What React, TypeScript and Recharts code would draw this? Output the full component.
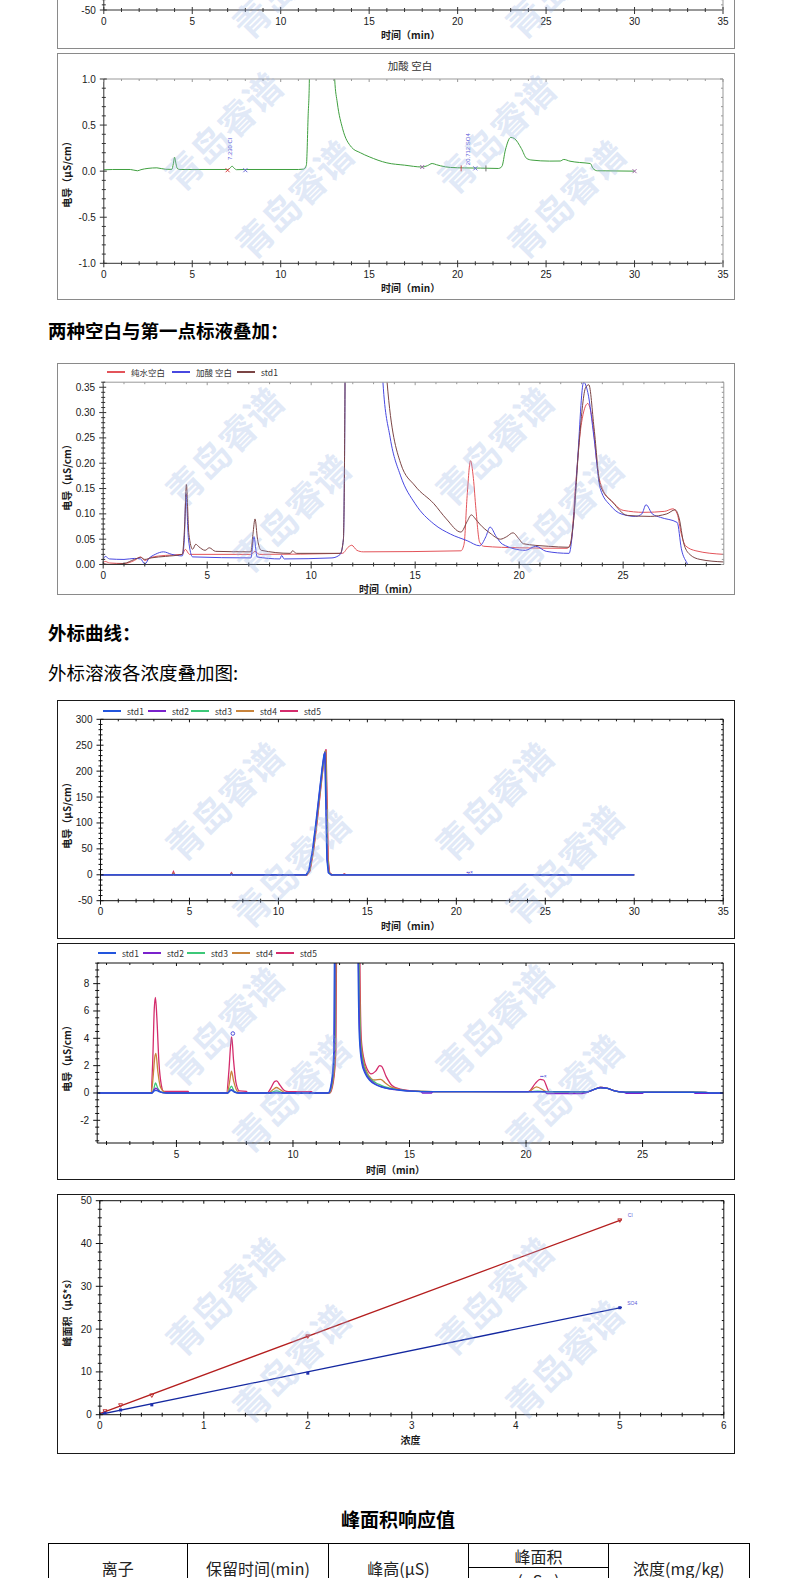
import React from 'react';
import { ComposedChart, Line, Scatter, XAxis, YAxis } from 'recharts';

type Pt = [number, number];

const LATIN = '"Liberation Sans", Arial, sans-serif';
const CJK = '"Noto Sans CJK SC", "Noto Sans", sans-serif';

// ---------------- data ----------------

// cut-off chart at the very top (only its x axis and lowest tick are visible)
const topXTicks = [0, 5, 10, 15, 20, 25, 30, 35];
const topYTicks = [-50];
const topTrace: Pt[] = [[0, 0], [30, 0]];

// 加酸 空白
const acidTitle = '加酸 空白';
const acidXTicks = [0, 5, 10, 15, 20, 25, 30, 35];
const acidYTicks = [-1, -0.5, 0, 0.5, 1];
const acidTrace: Pt[] = [
  [0, 0.015], [0.5, 0.018], [1.5, 0.018], [1.9, 0.004], [2.1, 0.016], [2.5, 0.03], [3.0, 0.036],
  [3.5, 0.02], [3.85, 0.02], [3.93, 0.08], [4.0, 0.15], [4.08, 0.08], [4.15, 0.03], [4.3, 0.018],
  [7.0, 0.018], [7.12, 0.03], [7.25, 0.054], [7.38, 0.03], [7.5, 0.016], [8.0, 0.018], [11.0, 0.018],
  [11.3, 0.022], [11.45, 0.065], [11.55, 0.6], [11.62, 1.0], [11.7, 2.5], [12.95, 2.5], [13.05, 1.0],
  [13.2, 0.74], [13.5, 0.46], [14.0, 0.26], [14.5, 0.2], [15.0, 0.156], [16.0, 0.09], [17.0, 0.065],
  [18.0, 0.045], [18.3, 0.06], [18.56, 0.083], [18.8, 0.07], [19.03, 0.058], [19.6, 0.04], [20.4, 0.035],
  [21.3, 0.033], [22.3, 0.029], [22.5, 0.05], [22.7, 0.23], [23.0, 0.366], [23.2, 0.355], [23.6, 0.246],
  [23.9, 0.138], [24.2, 0.12], [25.2, 0.109], [25.8, 0.11], [26.0, 0.127], [26.35, 0.108], [26.9, 0.094],
  [27.5, 0.083], [27.65, 0.03], [27.9, 0.004], [30.0, 0.0],
];
const acidMarks = [
  { t: 7.0, v: 0.01, kind: 'x', color: '#d84040' },
  { t: 8.0, v: 0.01, kind: 'x', color: '#6a6ad8' },
  { t: 18.0, v: 0.045, kind: 'x', color: '#9a6aa8' },
  { t: 20.2, v: 0.03, kind: '|', color: '#d84040' },
  { t: 21.0, v: 0.03, kind: 'x', color: '#6a6ad8' },
  { t: 21.6, v: 0.03, kind: '|', color: '#707070' },
  { t: 30.0, v: 0.0, kind: 'x', color: '#a06aa8' },
  { t: 7.23, v: 0.12, kind: 'text', color: '#5a5ad8', label: '7.230 Cl' },
  { t: 20.712, v: 0.065, kind: 'text', color: '#5a5ad8', label: '20.712 SO4' },
];

// 两种空白与第一点标液叠加
const overlayNames = ['纯水空白', '加酸 空白', 'std1'];
const overlayColors = ['#e3545a', '#4848e0', '#7b4545'];
const overlayXTicks = [0, 5, 10, 15, 20, 25];
const overlayYTicks = [0, 0.05, 0.1, 0.15, 0.2, 0.25, 0.3, 0.35];
const pureWaterTrace: Pt[] = [
  [0, 0.004], [0.1, 0.006], [0.3, 0.003], [1.0, 0.002], [1.5, 0.008], [1.8, 0.015], [2.0, 0.008],
  [2.3, 0.014], [3.0, 0.018], [3.8, 0.02], [3.95, 0.03], [4.15, 0.02], [7.1, 0.02], [7.3, 0.026],
  [7.5, 0.02], [11.5, 0.022], [11.8, 0.035], [11.95, 0.038], [12.2, 0.028], [12.5, 0.025], [17.2, 0.027],
  [17.35, 0.04], [17.5, 0.136], [17.66, 0.205], [17.8, 0.17], [17.92, 0.11], [18.1, 0.044], [18.3, 0.036],
  [20.0, 0.033], [22.3, 0.032], [22.5, 0.045], [22.7, 0.15], [23.0, 0.28], [23.3, 0.318], [23.5, 0.29],
  [23.8, 0.18], [24.0, 0.15], [24.5, 0.123], [25.0, 0.107], [26.0, 0.103], [27.0, 0.105], [27.4, 0.11],
  [27.6, 0.1], [27.8, 0.06], [28.0, 0.037], [28.5, 0.027], [29.84, 0.02],
];
const acidOverlayTrace: Pt[] = [
  [0, 0.01], [0.1, 0.016], [0.3, 0.011], [1.0, 0.01], [1.5, 0.012], [1.8, 0.011], [2.0, 0.001],
  [2.2, 0.012], [2.5, 0.02], [2.9, 0.025], [3.3, 0.02], [3.8, 0.017], [3.9, 0.05], [3.98, 0.14],
  [4.1, 0.05], [4.3, 0.015], [7.1, 0.013], [7.25, 0.055], [7.4, 0.015], [8.5, 0.011], [8.58, 0.018],
  [8.7, 0.011], [11.0, 0.013], [11.4, 0.02], [11.55, 0.05], [11.62, 0.3], [11.68, 0.8], [13.2, 0.8],
  [13.45, 0.36], [13.8, 0.25], [14.3, 0.175], [15.0, 0.12], [15.9, 0.08], [16.7, 0.06], [17.5, 0.047],
  [18.1, 0.037], [18.4, 0.055], [18.6, 0.074], [18.9, 0.055], [19.2, 0.04], [20.3, 0.028], [20.8, 0.036],
  [21.3, 0.026], [22.4, 0.022], [22.6, 0.08], [22.8, 0.2], [23.1, 0.36], [23.3, 0.34], [23.6, 0.25],
  [23.9, 0.15], [24.4, 0.116], [24.9, 0.1], [25.6, 0.095], [25.9, 0.1], [26.1, 0.118], [26.4, 0.1],
  [26.8, 0.093], [27.6, 0.083], [27.8, 0.031], [28.1, 0.0], [28.3, -0.02],
];
const std1BlankTrace: Pt[] = [
  [0, 0.002], [0.3, 0.0], [1.0, 0.002], [1.5, 0.01], [1.8, 0.014], [2.0, 0.01], [2.3, 0.013],
  [3.0, 0.016], [3.8, 0.02], [3.92, 0.08], [4.0, 0.158], [4.12, 0.06], [4.3, 0.03], [4.45, 0.04],
  [4.6, 0.035], [4.9, 0.028], [5.1, 0.033], [5.4, 0.026], [7.1, 0.025], [7.2, 0.06], [7.3, 0.09],
  [7.42, 0.05], [7.6, 0.028], [9.0, 0.022], [9.1, 0.027], [9.3, 0.022], [11.4, 0.022], [11.55, 0.05],
  [11.62, 0.3], [11.68, 0.8], [13.5, 0.8], [13.65, 0.36], [14.3, 0.2], [15.0, 0.155], [15.9, 0.12],
  [16.5, 0.09], [17.2, 0.064], [17.5, 0.085], [17.7, 0.098], [17.9, 0.09], [18.1, 0.08], [18.6, 0.062],
  [19.1, 0.05], [19.4, 0.055], [19.7, 0.0625], [20.0, 0.05], [20.2, 0.041], [21.4, 0.036], [22.4, 0.034],
  [22.6, 0.08], [22.9, 0.25], [23.2, 0.35], [23.35, 0.355], [23.6, 0.27], [23.9, 0.156], [24.5, 0.123],
  [25.2, 0.097], [26.3, 0.095], [27.1, 0.1], [27.5, 0.108], [27.7, 0.09], [27.9, 0.044], [28.2, 0.02],
  [28.7, 0.01], [29.84, 0.005],
];

// 外标溶液各浓度叠加图
const stdNames = ['std1', 'std2', 'std3', 'std4', 'std5'];
const stdColors = ['#2255dd', '#7a22cc', '#3cc878', '#c8843c', '#d42c6c'];
const fullXTicks = [0, 5, 10, 15, 20, 25, 30, 35];
const fullYTicks = [-50, 0, 50, 100, 150, 200, 250, 300];
const fullStd1: Pt[] = [
  [0, 0], [11.55, 0], [11.7, 8], [11.9, 45], [12.1, 100], [12.3, 160], [12.45, 205], [12.55, 230],
  [12.6, 235], [12.66, 140], [12.72, 30], [12.8, 4], [12.95, 0], [30, 0],
];
const fullStd2: Pt[] = [
  [0, 0], [7.3, 0], [7.36, 1], [7.42, 0], [11.57, 0], [11.72, 8], [11.92, 45], [12.12, 100], [12.32, 162],
  [12.47, 207], [12.57, 232], [12.62, 237], [12.68, 140], [12.74, 30], [12.82, 4], [12.97, 0], [30, 0],
];
const fullStd3: Pt[] = [
  [0, 0], [4.05, 0], [4.1, 1], [4.16, 0], [7.3, 0], [7.36, 1.5], [7.42, 0], [11.58, 0], [11.74, 8],
  [11.94, 46], [12.14, 102], [12.34, 164], [12.49, 208], [12.59, 234], [12.64, 238], [12.7, 140],
  [12.76, 30], [12.84, 4], [12.99, 0], [30, 0],
];
const fullStd4: Pt[] = [
  [0, 0], [4.05, 0], [4.1, 3], [4.16, 0], [7.3, 0], [7.36, 2.5], [7.42, 0], [11.6, 0], [11.76, 8],
  [11.96, 46], [12.16, 102], [12.36, 165], [12.51, 210], [12.61, 236], [12.66, 240], [12.72, 140],
  [12.78, 30], [12.86, 4], [13.0, 0], [13.65, 0], [13.72, 1], [13.8, 0], [30, 0],
];
const fullStd5: Pt[] = [
  [0, 0], [4.02, 0], [4.1, 6], [4.18, 0], [7.28, 0], [7.36, 4], [7.44, 0], [11.62, 0], [11.78, 8],
  [11.98, 47], [12.18, 103], [12.38, 166], [12.53, 212], [12.63, 238], [12.68, 242], [12.74, 140],
  [12.8, 30], [12.88, 4], [13.02, 0], [13.62, 0], [13.7, 2], [13.8, 0], [20.6, 0], [20.7, 1], [20.8, 0], [30, 0],
];
const fullMarks = [
  { t: 20.75, v: 0, kind: 'text2', color: '#4a4ad8', label: '▪▪×' },
];

// zoomed overlay
const zoomXTicks = [5, 10, 15, 20, 25];
const zoomYTicks = [-2, 0, 2, 4, 6, 8];
const zoomStd1: Pt[] = [
  [1.6, 0], [3.95, 0], [4.05, 0.15], [4.12, 0.2], [4.25, 0.1], [4.4, 0.03], [4.6, 0], [7.2, 0], [7.3, 0.15],
  [7.36, 0.2], [7.5, 0.05], [7.7, 0], [11.5, 0], [11.65, 0.8], [11.75, 3], [11.9, 45], [12.6, 235],
  [12.78, 12], [12.85, 4], [12.95, 2.2], [13.1, 1.4], [13.3, 0.9], [13.55, 0.6], [13.8, 0.42], [14.2, 0.3],
  [14.6, 0.2], [15.0, 0.14], [16.0, 0.1], [22.6, 0.08], [22.9, 0.25], [23.2, 0.38], [23.5, 0.33],
  [23.8, 0.15], [24.2, 0.06], [27.7, 0.05], [27.9, 0], [28.46, 0],
];
const zoomStd2: Pt[] = [
  [1.6, 0], [3.95, 0], [4.05, 0.25], [4.12, 0.35], [4.25, 0.15], [4.4, 0.03], [4.6, 0], [7.2, 0], [7.3, 0.2],
  [7.36, 0.25], [7.5, 0.06], [7.7, 0], [9.1, 0], [9.29, 0.05], [9.5, 0], [11.52, 0], [11.67, 0.8], [11.78, 3],
  [11.93, 45], [12.62, 237], [12.8, 12], [12.87, 4], [12.97, 2.3], [13.12, 1.45], [13.32, 0.95], [13.57, 0.62],
  [13.76, 0.48], [14.0, 0.36], [14.5, 0.22], [15.0, 0.15], [15.5, 0.1], [15.55, 0], [15.95, 0], [16.0, 0.1],
  [20.8, 0.1], [20.9, -0.05], [22.4, -0.05], [22.9, 0.25], [23.2, 0.4], [23.5, 0.33], [23.8, 0.15],
  [24.2, 0.06], [24.3, -0.02], [25.0, -0.02], [25.05, 0.05], [27.2, 0.05], [27.25, -0.02], [28.46, -0.02],
];
const zoomStd3: Pt[] = [
  [1.6, 0], [3.95, 0], [4.03, 0.3], [4.1, 0.73], [4.2, 0.35], [4.35, 0.06], [4.6, 0], [7.2, 0], [7.3, 0.35],
  [7.36, 0.5], [7.48, 0.12], [7.7, 0], [9.0, 0], [9.29, 0.15], [9.6, 0], [11.54, 0], [11.69, 0.8], [11.8, 3],
  [11.95, 45], [12.64, 238], [12.82, 12], [12.89, 4], [12.99, 2.4], [13.14, 1.5], [13.34, 1.0], [13.55, 0.75],
  [13.76, 0.58], [14.0, 0.42], [14.5, 0.24], [15.0, 0.15], [16.0, 0.1], [20.2, 0.1], [20.5, 0.14],
  [20.8, 0.1], [22.6, 0.08], [22.9, 0.25], [23.2, 0.4], [23.5, 0.33], [23.8, 0.15], [24.2, 0.06],
  [27.7, 0.05], [27.9, 0], [28.46, 0],
];
const zoomStd4: Pt[] = [
  [1.6, 0], [3.92, 0], [4.0, 1.2], [4.07, 2.6], [4.12, 2.9], [4.2, 1.6], [4.32, 0.4], [4.5, 0.05], [4.6, 0],
  [7.18, 0], [7.28, 0.8], [7.36, 1.6], [7.45, 0.9], [7.6, 0.15], [7.75, 0], [8.95, 0], [9.15, 0.25],
  [9.29, 0.4], [9.45, 0.25], [9.7, 0], [11.56, 0], [11.71, 0.8], [11.82, 3], [11.97, 45], [12.66, 240],
  [12.84, 12], [12.91, 4], [13.01, 2.5], [13.16, 1.6], [13.36, 1.05], [13.5, 0.95], [13.76, 1.0],
  [13.95, 0.75], [14.2, 0.45], [14.6, 0.25], [15.0, 0.16], [16.0, 0.1], [20.1, 0.1], [20.45, 0.45],
  [20.9, 0.1], [22.6, 0.08], [22.9, 0.25], [23.2, 0.4], [23.5, 0.33], [23.8, 0.15], [24.2, 0.06],
  [27.7, 0.05], [27.9, 0], [28.46, 0],
];
const zoomStd5: Pt[] = [
  [1.6, 0], [3.9, 0], [3.98, 2.2], [4.05, 6.2], [4.1, 7.0], [4.16, 5.5], [4.25, 2.2], [4.35, 0.6],
  [4.45, 0.12], [5.5, 0.12], [5.55, 0], [7.15, 0], [7.25, 1.6], [7.33, 3.6], [7.37, 4.1], [7.45, 2.4],
  [7.55, 0.8], [7.7, 0.15], [8.0, 0.12], [8.05, 0], [8.9, 0], [9.05, 0.35], [9.22, 0.85], [9.3, 0.88],
  [9.45, 0.55], [9.65, 0.15], [9.8, 0.1], [10.8, 0.1], [10.85, 0], [11.58, 0], [11.73, 0.8], [11.84, 3],
  [11.99, 45], [12.68, 242], [12.86, 12], [12.93, 4], [13.03, 2.6], [13.2, 1.7], [13.35, 1.4],
  [13.55, 1.6], [13.72, 2.0], [13.8, 1.95], [14.0, 1.2], [14.25, 0.55], [14.6, 0.28], [15.0, 0.17],
  [16.0, 0.1], [20.1, 0.1], [20.4, 0.7], [20.6, 1.0], [20.75, 0.95], [21.0, 0.1], [22.6, 0.08],
  [22.9, 0.25], [23.2, 0.4], [23.5, 0.33], [23.8, 0.15], [24.2, 0.06], [27.7, 0.05], [27.9, 0], [28.46, 0],
];
const zoomMarks = [
  { t: 7.42, v: 4.35, kind: 'o', color: '#4a4ad8' },
  { t: 20.75, v: 1.05, kind: 'text2', color: '#4a4ad8', label: '▪▪×' },
];

// 标准曲线
const calXTicks = [0, 1, 2, 3, 4, 5, 6];
const calYTicks = [0, 10, 20, 30, 40, 50];
const calConc = [0.05, 0.2, 0.5, 2, 5];
const clArea = [0.8, 2.2, 4.5, 18.3, 45.4];
const so4Area = [0.35, 1.1, 2.3, 9.7, 25.0];
const clFit: Pt[] = [[0, 0.25], [5.02, 45.6]];
const so4Fit: Pt[] = [[0, 0.05], [5.02, 25.1]];
const calLabels = ['Cl', 'SO4'];

// 峰面积响应值 table
const tableTitle = '峰面积响应值';
const tableHeads = ['离子', '保留时间(min)', '峰高(μS)', '峰面积', '浓度(mg/kg)'];
const tableAreaUnit = '(μS.s)';

// ---------------- helpers ----------------

interface AxisSpec { domain: [number, number]; major: number[]; minor: number; fmt: (v: number) => string }
interface LineSpec { data: Pt[]; color: string; width?: number; smooth?: boolean }
interface Mark { t: number; v: number; kind: string; color: string; label?: string }
interface ChartSpec {
  left: number; top: number; width: number; height: number;
  plot: { l: number; t: number; r: number; b: number };
  x: AxisSpec; y: AxisSpec;
  lines: LineSpec[];
  marks?: Mark[];
  border: string; borderW: number; axis: string; frame: string;
}

const AXB = 20, AXT = 4, AXW = 30, AXR = 4;
const toRows = (d: Pt[]) => d.map(([t, v]) => ({ t, v }));
const near = (a: number, b: number) => Math.abs(a - b) < 1e-6;

function tickValues(ax: AxisSpec) {
  const out: number[] = [];
  const [lo, hi] = ax.domain;
  const i0 = Math.ceil(lo / ax.minor - 1e-6);
  const i1 = Math.floor(hi / ax.minor + 1e-6);
  for (let i = i0; i <= i1; i++) out.push(Math.round(i * ax.minor * 1e6) / 1e6);
  return out;
}

function makeTick(side: 'bottom' | 'top' | 'left' | 'right', ax: AxisSpec, color: string) {
  return (p: any) => {
    const v: number = p.payload.value;
    const major = ax.major.some((m) => near(m, v));
    const x: number = p.x;
    const y: number = p.y;
    const out = major ? 4 : 2;
    const inn = major ? 3 : 2;
    const txt = { fontFamily: LATIN, fontSize: 10, fill: '#1a1a1a' };
    if (side === 'bottom') {
      return (
        <g>
          <line x1={x} x2={x} y1={y - inn} y2={y + out} stroke={color} />
          {major && <text x={x} y={y + 11} dy="0.35em" textAnchor="middle" style={txt}>{ax.fmt(v)}</text>}
        </g>
      );
    }
    if (side === 'left') {
      return (
        <g>
          <line x1={x - out} x2={x + inn} y1={y} y2={y} stroke={color} />
          {major && <text x={x - 8} y={y} dy="0.35em" textAnchor="end" style={txt}>{ax.fmt(v)}</text>}
        </g>
      );
    }
    if (side === 'top') return <line x1={x} x2={x} y1={y} y2={y + inn} stroke={color} />;
    return <line x1={x - inn} x2={x} y1={y} y2={y} stroke={color} />;
  };
}

function markShape(p: any) {
  const { cx, cy, payload } = p;
  const m = payload as Mark;
  if (m.kind === 'x') {
    return (
      <g stroke={m.color} strokeWidth={1}>
        <line x1={cx - 2} y1={cy - 2} x2={cx + 2} y2={cy + 2} />
        <line x1={cx - 2} y1={cy + 2} x2={cx + 2} y2={cy - 2} />
      </g>
    );
  }
  if (m.kind === '|') return <line x1={cx} y1={cy - 3} x2={cx} y2={cy + 3} stroke={m.color} />;
  if (m.kind === 'o') return <circle cx={cx} cy={cy} r={1.8} fill="none" stroke={m.color} />;
  if (m.kind === 'tri') {
    return <path d={`M${cx - 2},${cy - 1.5} L${cx + 2},${cy - 1.5} L${cx},${cy + 2} Z`} fill="none" stroke={m.color} />;
  }
  if (m.kind === 'sq') return <rect x={cx - 1.5} y={cy - 1.5} width={3} height={3} fill={m.color} />;
  if (m.kind === 'text') {
    return (
      <text x={cx} y={cy} transform={`rotate(-90 ${cx} ${cy})`} style={{ fontFamily: LATIN, fontSize: 6, fill: m.color }}>
        {m.label}
      </text>
    );
  }
  return (
    <text x={cx} y={cy - 1} textAnchor="middle" style={{ fontFamily: LATIN, fontSize: 5, fill: m.color }}>
      {m.label}
    </text>
  );
}

function Chrom({ spec }: { spec: ChartSpec }) {
  const { left, top, width, height, plot, x, y } = spec;
  const margin = {
    left: plot.l - left - AXW,
    top: plot.t - top - AXT,
    right: left + width - plot.r - AXR,
    bottom: top + height - plot.b - AXB,
  };
  const xt = tickValues(x);
  const yt = tickValues(y);
  return (
    <div style={{ position: 'absolute', left, top, width, height }}>
      <ComposedChart width={width} height={height} margin={margin}>
        <XAxis dataKey="t" type="number" domain={x.domain} allowDataOverflow ticks={xt} interval={0}
          tickSize={0} tickMargin={0} tickLine={false} axisLine={{ stroke: spec.axis }}
          tick={makeTick('bottom', x, spec.axis)} height={AXB} />
        <XAxis xAxisId="top" orientation="top" dataKey="t" type="number" domain={x.domain} allowDataOverflow
          ticks={xt} interval={0} tickSize={0} tickMargin={0} tickLine={false} axisLine={{ stroke: spec.frame }}
          tick={makeTick('top', x, spec.frame)} height={AXT} />
        <YAxis type="number" domain={y.domain} allowDataOverflow ticks={yt} interval={0}
          tickSize={0} tickMargin={0} tickLine={false} axisLine={{ stroke: spec.axis }}
          tick={makeTick('left', y, spec.axis)} width={AXW} />
        <YAxis yAxisId="right" orientation="right" type="number" domain={y.domain} allowDataOverflow ticks={yt}
          interval={0} tickSize={0} tickMargin={0} tickLine={false} axisLine={{ stroke: spec.frame }}
          tick={makeTick('right', y, spec.frame)} width={AXR} />
        {spec.lines.map((s, i) => (
          <Line key={i} data={toRows(s.data)} dataKey="v" type={s.smooth === false ? 'linear' : 'monotone'}
            stroke={s.color} strokeWidth={s.width ?? 1} dot={false} activeDot={false} isAnimationActive={false} />
        ))}
        {spec.marks && (
          <Scatter data={spec.marks} dataKey="v" shape={markShape} isAnimationActive={false} />
        )}
      </ComposedChart>
      <div style={{
        position: 'absolute', left: 0, top: 0, width, height, boxSizing: 'border-box',
        border: `${spec.borderW}px solid ${spec.border}`, pointerEvents: 'none',
      }} />
    </div>
  );
}

const AxisTitle = ({ text, cx, cy, rotate }: { text: string; cx: number; cy: number; rotate?: boolean }) => (
  <div style={{
    position: 'absolute', left: cx, top: cy, whiteSpace: 'nowrap', fontFamily: CJK, fontSize: 10,
    fontWeight: 700, color: '#1a1a1a', lineHeight: '12px',
    transform: `translate(-50%, -50%)${rotate ? ' rotate(-90deg)' : ''}`,
  }}>{text}</div>
);

const Legend = ({ names, colors, lineX, y }: { names: string[]; colors: string[]; lineX: number[]; y: number }) => (
  <>
    {names.map((n, i) => (
      <div key={n} style={{ position: 'absolute', left: Math.round(lineX[i]), top: Math.round(y) - 6, height: 12, display: 'flex', alignItems: 'center', zIndex: 5 }}>
        <div style={{ width: 18, height: 1.5, background: colors[i] }} />
        <span style={{ marginLeft: 6, fontFamily: CJK, fontSize: 8.5, color: '#333', whiteSpace: 'nowrap' }}>{n}</span>
      </div>
    ))}
  </>
);

const Heading = ({ text, cy, bold }: { text: string; cy: number; bold?: boolean }) => (
  <div style={{
    position: 'absolute', left: 48, top: cy - 13, height: 26, lineHeight: '26px', fontFamily: CJK,
    fontSize: 18.5, fontWeight: bold ? 700 : 400, color: '#000', whiteSpace: 'nowrap',
  }}>{text}</div>
);

const watermarkSpots: Pt[] = [
  [290, -22], [563, -22],
  [222, 130], [293, 198], [495, 133], [565, 198],
  [223, 445], [290, 512], [493, 445], [563, 512],
  [223, 800], [290, 867], [493, 800], [563, 863],
  [223, 1025], [290, 1092], [493, 1022], [563, 1092],
  [223, 1295], [290, 1362], [493, 1295], [563, 1358],
];

// ---------------- chart specs ----------------

const fmtInt = (v: number) => String(v);
const gray = '#8a8a8a';

const topSpec: ChartSpec = {
  left: 56.5, top: -190, width: 678, height: 238.5,
  plot: { l: 103.3, t: -171, r: 722.5, b: 10 },
  x: { domain: [0, 35], major: topXTicks, minor: 1, fmt: fmtInt },
  y: { domain: [-50, 300], major: topYTicks, minor: 10, fmt: fmtInt },
  lines: [{ data: topTrace, color: '#3f9f3f', smooth: false }],
  border: gray, borderW: 1, axis: '#333', frame: '#999',
};

const acidSpec: ChartSpec = {
  left: 56.5, top: 53, width: 678, height: 247,
  plot: { l: 103.3, t: 79, r: 722.5, b: 263.3 },
  x: { domain: [0, 35], major: acidXTicks, minor: 1, fmt: fmtInt },
  y: { domain: [-1, 1], major: acidYTicks, minor: 0.1, fmt: (v) => v.toFixed(1) },
  lines: [{ data: acidTrace, color: '#3f9f3f' }],
  marks: acidMarks,
  border: gray, borderW: 1, axis: '#333', frame: '#999',
};

const overlaySpec: ChartSpec = {
  left: 56.5, top: 362.5, width: 678, height: 232.5,
  plot: { l: 102.7, t: 381.7, r: 723.3, b: 564 },
  x: { domain: [0, 29.84], major: overlayXTicks, minor: 1, fmt: fmtInt },
  y: { domain: [0, 0.36], major: overlayYTicks, minor: 0.01, fmt: (v) => v.toFixed(2) },
  lines: [
    { data: pureWaterTrace, color: overlayColors[0] },
    { data: acidOverlayTrace, color: overlayColors[1] },
    { data: std1BlankTrace, color: overlayColors[2] },
  ],
  border: gray, borderW: 1, axis: '#333', frame: '#999',
};

const fullSpec: ChartSpec = {
  left: 56.5, top: 700, width: 678, height: 238.5,
  plot: { l: 100, t: 719.3, r: 722.7, b: 900.7 },
  x: { domain: [0, 35], major: fullXTicks, minor: 1, fmt: fmtInt },
  y: { domain: [-50, 300], major: fullYTicks, minor: 10, fmt: fmtInt },
  lines: [
    { data: fullStd5, color: stdColors[4], width: 1.3, smooth: false },
    { data: fullStd4, color: stdColors[3], width: 1.3, smooth: false },
    { data: fullStd3, color: stdColors[2], width: 1.3, smooth: false },
    { data: fullStd2, color: stdColors[1], width: 1.3, smooth: false },
    { data: fullStd1, color: stdColors[0], width: 1.3, smooth: false },
  ],
  marks: fullMarks,
  border: '#1a1a1a', borderW: 1.5, axis: '#111', frame: '#111',
};

const zoomSpec: ChartSpec = {
  left: 56.5, top: 943.3, width: 678, height: 237,
  plot: { l: 96.7, t: 963.3, r: 722.7, b: 1143.3 },
  x: { domain: [1.6, 28.46], major: zoomXTicks, minor: 1, fmt: fmtInt },
  y: { domain: [-3.66, 9.51], major: zoomYTicks, minor: 0.5, fmt: fmtInt },
  lines: [
    { data: zoomStd5, color: stdColors[4], width: 1.3 },
    { data: zoomStd4, color: stdColors[3], width: 1.3 },
    { data: zoomStd3, color: stdColors[2], width: 1.3 },
    { data: zoomStd2, color: stdColors[1], width: 1.3 },
    { data: zoomStd1, color: stdColors[0], width: 1.3 },
  ],
  marks: zoomMarks,
  border: '#1a1a1a', borderW: 1.5, axis: '#111', frame: '#111',
};

const calMarks: Mark[] = [
  ...calConc.map((c, i) => ({ t: c, v: clArea[i], kind: 'tri', color: '#c03030' })),
  ...calConc.map((c, i) => ({ t: c, v: so4Area[i], kind: 'sq', color: '#2030b0' })),
  { t: 5.1, v: 46.0, kind: 'text2', color: '#5a5ad8', label: calLabels[0] },
  { t: 5.12, v: 25.3, kind: 'text2', color: '#5a5ad8', label: calLabels[1] },
];

const calSpec: ChartSpec = {
  left: 56.5, top: 1194.3, width: 678, height: 260,
  plot: { l: 99.3, t: 1201, r: 723.3, b: 1415 },
  x: { domain: [0, 6], major: calXTicks, minor: 0.2, fmt: fmtInt },
  y: { domain: [0, 50], major: calYTicks, minor: 2, fmt: fmtInt },
  lines: [
    { data: clFit, color: '#b41e1e', width: 1.3, smooth: false },
    { data: so4Fit, color: '#1428a0', width: 1.3, smooth: false },
  ],
  marks: calMarks,
  border: '#1a1a1a', borderW: 1.5, axis: '#111', frame: '#111',
};

const cellStyle: React.CSSProperties = {
  border: '1px solid #000', textAlign: 'center', verticalAlign: 'middle', padding: 0,
  fontFamily: CJK, fontSize: 16, color: '#222', lineHeight: '20px',
};

export default function App() {
  return (
    <div style={{ position: 'absolute', left: 0, top: 0, width: 793, height: 1578, overflow: 'hidden', background: '#fff' }}>
      {/* cut-off chart on top */}
      <Chrom spec={topSpec} />
      <AxisTitle text="时间（min）" cx={410.6} cy={35} />

      {/* 加酸 空白 */}
      <Chrom spec={acidSpec} />
      <div style={{ position: 'absolute', left: 410, top: 65, transform: 'translate(-50%, -50%)', fontFamily: CJK, fontSize: 10.5, color: '#333', whiteSpace: 'pre' }}>{acidTitle}</div>
      <AxisTitle text="电导（μS/cm）" cx={66.7} cy={172} rotate />
      <AxisTitle text="时间（min）" cx={410.6} cy={288} />

      <Heading text="两种空白与第一点标液叠加：" cy={330} bold />

      {/* overlay of blanks */}
      <Chrom spec={overlaySpec} />
      <Legend names={overlayNames} colors={overlayColors} lineX={[106.7, 171.7, 236.7]} y={371.7} />
      <AxisTitle text="电导（μS/cm）" cx={66.7} cy={475} rotate />
      <AxisTitle text="时间（min）" cx={388.5} cy={588.5} />

      <Heading text="外标曲线：" cy={632} bold />
      <Heading text="外标溶液各浓度叠加图:" cy={672} />

      {/* standards full range */}
      <Chrom spec={fullSpec} />
      <Legend names={stdNames} colors={stdColors} lineX={[103, 147.7, 191, 235.7, 280]} y={710.7} />
      <AxisTitle text="电导（μS/cm）" cx={66.7} cy={813} rotate />
      <AxisTitle text="时间（min）" cx={410.6} cy={926} />

      {/* standards zoomed */}
      <Chrom spec={zoomSpec} />
      <Legend names={stdNames} colors={stdColors} lineX={[98.3, 142.7, 187, 231.7, 276]} y={953.3} />
      <AxisTitle text="电导（μS/cm）" cx={66.7} cy={1056} rotate />
      <AxisTitle text="时间（min）" cx={395.5} cy={1169.5} />

      {/* calibration */}
      <Chrom spec={calSpec} />
      <AxisTitle text="峰面积（μS*s）" cx={66.7} cy={1310} rotate />
      <AxisTitle text="浓度" cx={410.6} cy={1440} />

      {/* table */}
      <div style={{ position: 'absolute', left: 398, top: 1518, transform: 'translate(-50%, -50%)', fontFamily: CJK, fontSize: 19, fontWeight: 700, color: '#000', whiteSpace: 'nowrap' }}>{tableTitle}</div>
      <table style={{ position: 'absolute', left: 47.5, top: 1543, borderCollapse: 'collapse', tableLayout: 'fixed', width: 701 }}>
        <colgroup>
          {[139.5, 141, 140, 140, 140.5].map((w, i) => <col key={i} style={{ width: w }} />)}
        </colgroup>
        <tbody>
          <tr style={{ height: 24 }}>
            <td rowSpan={2} style={cellStyle}>{tableHeads[0]}</td>
            <td rowSpan={2} style={cellStyle}>{tableHeads[1]}</td>
            <td rowSpan={2} style={cellStyle}>{tableHeads[2]}</td>
            <td style={cellStyle}>{tableHeads[3]}</td>
            <td rowSpan={2} style={cellStyle}>{tableHeads[4]}</td>
          </tr>
          <tr style={{ height: 24 }}>
            <td style={cellStyle}>{tableAreaUnit}</td>
          </tr>
        </tbody>
      </table>

      {/* watermark */}
      {watermarkSpots.map(([x, y], i) => (
        <div key={i} style={{
          position: 'absolute', left: x, top: y, transform: 'translate(-50%, -50%) rotate(-45deg)',
          fontFamily: CJK, fontSize: 37, fontWeight: 700, color: 'rgba(150,178,228,0.28)',
          whiteSpace: 'nowrap', pointerEvents: 'none', zIndex: 10,
        }}>青岛睿谱</div>
      ))}
    </div>
  );
}
